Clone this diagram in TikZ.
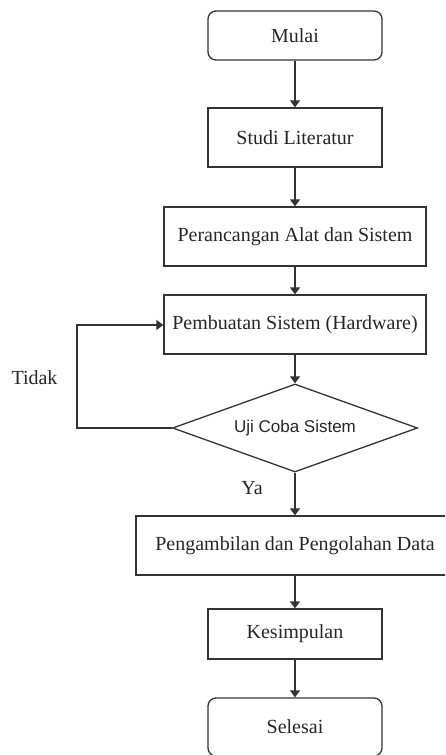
\documentclass[tikz,border=0pt]{standalone}
\usepackage{fontspec}
\setmainfont{Liberation Serif}
\newfontfamily\arialfont{Liberation Sans}
\usetikzlibrary{shapes.geometric,arrows.meta}
\begin{document}
\begin{tikzpicture}[x=1pt,y=-1pt,
  every node/.style={text=black!85},
  box/.style={draw=black!80, line width=1.3pt, inner sep=0pt, font=\fontsize{20}{24}\selectfont},
  term/.style={box, rounded corners=8pt, minimum width=174pt},
  dec/.style={draw=black!80, line width=1.3pt, shape=diamond, aspect=2.78, inner sep=0pt,
              minimum width=245pt, minimum height=88pt, font=\arialfont\fontsize{17}{20}\selectfont},
  lbl/.style={font=\fontsize{20}{24}\selectfont},
  arr/.style={draw=black!80, line width=1.3pt, -{Triangle[width=10pt,length=7pt]}}]
\useasboundingbox (0,0) rectangle (445,755);
\clip (0,0) rectangle (445,755);
\node[term, minimum height=49pt] (mulai) at (295,35.5) {Mulai};
\node[box, minimum width=174pt, minimum height=59pt] (studi) at (295,137.5) {Studi Literatur};
\node[box, minimum width=262pt, minimum height=59pt] (rancang) at (295,236.5) {Perancangan Alat dan Sistem};
\node[box, minimum width=262pt, minimum height=59pt] (buat) at (295,324.5) {Pembuatan Sistem (Hardware)};
\node[dec] (uji) at (295,428) {Uji Coba Sistem};
\node[box, minimum width=318pt, minimum height=59pt] (ambil) at (295,545.5) {Pengambilan dan Pengolahan Data};
\node[box, minimum width=174pt, minimum height=50pt] (simpul) at (295,634) {Kesimpulan};
\node[term, minimum height=58pt] (selesai) at (295,727) {Selesai};
\node[lbl] (tidak) at (34.5,378) {Tidak};
\node[lbl] (ya) at (252,488) {Ya};
\coordinate (c1) at (77,428);
\coordinate (c2) at (77,325);
\draw[arr] (mulai) -- (studi);
\draw[arr] (studi) -- (rancang);
\draw[arr] (rancang) -- (buat);
\draw[arr] (buat) -- (uji);
\draw[arr] (uji) -- (ambil);
\draw[arr] (ambil) -- (simpul);
\draw[arr] (simpul) -- (selesai);
\draw[arr] (uji.west) -- (c1) -- (c2) -- (buat.west |- c2);
\end{tikzpicture}
\end{document}
